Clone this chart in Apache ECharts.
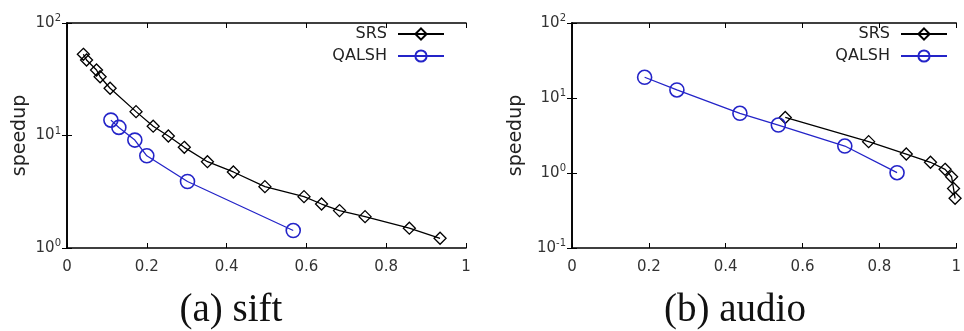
<!DOCTYPE html>
<html>
<head>
<meta charset="utf-8">
<script src="https://cdn.jsdelivr.net/npm/echarts@6/dist/echarts.min.js"></script>
<style>
html,body{margin:0;padding:0;background:#fff;}
#c{width:964px;height:331px;}
</style>
</head>
<body>
<div id="c"></div>
<script>
// ---- data ----
const seriesNames = ['SRS', 'QALSH'];
const panelTitles = ['(a) sift', '(b) audio'];
const xTicks = [0, 0.2, 0.4, 0.6, 0.8, 1];

const siftSrsX = [0.041, 0.049, 0.074, 0.083, 0.108, 0.173, 0.216, 0.254, 0.294, 0.352, 0.417, 0.496, 0.594, 0.638, 0.683, 0.747, 0.858, 0.935];
const siftSrsY = [52.7, 46.9, 38.2, 33.3, 26.3, 16.3, 12.1, 9.9, 7.85, 5.85, 4.74, 3.51, 2.86, 2.46, 2.15, 1.90, 1.50, 1.22];
const siftQalshX = [0.110, 0.130, 0.170, 0.200, 0.302, 0.567];
const siftQalshY = [13.7, 11.8, 9.1, 6.6, 3.9, 1.43];

const audioSrsX = [0.555, 0.772, 0.870, 0.933, 0.971, 0.988, 0.993, 0.997];
const audioSrsY = [5.5, 2.62, 1.79, 1.39, 1.12, 0.89, 0.62, 0.46];
const audioQalshX = [0.189, 0.273, 0.437, 0.537, 0.710, 0.846];
const audioQalshY = [18.9, 12.8, 6.25, 4.36, 2.29, 1.01];

const yRangeSift = [1, 100];
const yRangeAudio = [0.1, 100];

function zip(xs, ys) { return xs.map((x, i) => [x, ys[i]]); }

const tickFont = 'DejaVu Sans';
const blue = '#2424c8';

function yLabelFmt(v) {
  return '10{s|' + Math.round(Math.log10(v)) + '}';
}
const yRich = { s: { fontSize: 10, fontFamily: tickFont, color: '#333', padding: [0, 0, 9, 0] } };

const grids = [
  { left: 67, top: 23, width: 399, height: 225 },
  { left: 572, top: 23, width: 393, height: 225 }
];

const xAxes = [], yAxes = [];
[0, 1].forEach(g => {
  xAxes.push({
    type: 'value', gridIndex: g, min: 0, max: 1, interval: 0.2, position: 'bottom',
    axisLine: { show: true, lineStyle: { color: '#000', width: 1.6 } },
    axisTick: { show: true, inside: true, length: 5, lineStyle: { color: '#000', width: 1 } },
    axisLabel: { show: true, margin: 12, color: '#333', fontSize: 15, fontFamily: tickFont,
      formatter: v => (xTicks.indexOf(+v.toFixed(1)) >= 0 ? String(+v.toFixed(1)) : '') },
    splitLine: { show: false }
  });
  xAxes.push({
    type: 'value', gridIndex: g, min: 0, max: 1, interval: 0.2, position: 'top',
    axisLine: { show: true, lineStyle: { color: '#000', width: 1.6 } },
    axisTick: { show: true, inside: true, length: 5, lineStyle: { color: '#000', width: 1 } },
    axisLabel: { show: false }, splitLine: { show: false }
  });
  const yr = g === 0 ? yRangeSift : yRangeAudio;
  yAxes.push({
    type: 'log', logBase: 10, gridIndex: g, min: yr[0], max: yr[1], position: 'left',
    name: 'speedup', nameLocation: 'middle', nameGap: g === 0 ? 37 : 46, nameRotate: 90,
    nameTextStyle: { fontSize: 19, fontFamily: tickFont, color: '#222' },
    axisLine: { show: true, lineStyle: { color: '#000', width: 1.6 } },
    axisTick: { show: true, inside: true, length: 5, lineStyle: { color: '#000', width: 1 } },
    axisLabel: { show: true, margin: 6, color: '#333', fontSize: 15, fontFamily: tickFont,
      formatter: yLabelFmt, rich: yRich },
    splitLine: { show: false }, minorTick: { show: false }
  });
  yAxes.push({
    type: 'log', logBase: 10, gridIndex: g, min: yr[0], max: yr[1], position: 'right',
    axisLine: { show: true, lineStyle: { color: '#000', width: 1.6 } },
    axisTick: { show: true, inside: true, length: 5, lineStyle: { color: '#000', width: 1 } },
    axisLabel: { show: false }, splitLine: { show: false }
  });
});

function srsSeries(data, g) {
  return {
    name: seriesNames[0], type: 'line', xAxisIndex: g * 2, yAxisIndex: g * 2, data: data,
    symbol: 'diamond', symbolSize: 12, showAllSymbol: true,
    lineStyle: { color: '#000', width: 1.3 },
    itemStyle: { color: 'rgba(0,0,0,0)', borderColor: '#000', borderWidth: 1.3 },
    color: '#000', animation: false
  };
}
function qalshSeries(data, g) {
  return {
    name: seriesNames[1], type: 'line', xAxisIndex: g * 2, yAxisIndex: g * 2, data: data,
    symbol: 'circle', symbolSize: 14, showAllSymbol: true,
    lineStyle: { color: blue, width: 1.3 },
    itemStyle: { color: 'rgba(0,0,0,0)', borderColor: blue, borderWidth: 1.6 },
    color: blue, animation: false
  };
}

const legendBase = {
  orient: 'vertical', align: 'right', padding: 0, itemGap: 6, itemWidth: 46, itemHeight: 14,
  top: 26, data: seriesNames, selectedMode: false,
  textStyle: { fontSize: 16, fontFamily: tickFont, color: '#222', padding: [0, 6, 0, 0] }
};

const option = {
  backgroundColor: '#fff',
  animation: false,
  grid: grids,
  xAxis: xAxes,
  yAxis: yAxes,
  legend: [
    Object.assign({}, legendBase, { right: 964 - 445 }),
    Object.assign({}, legendBase, { right: 964 - 948 })
  ],
  series: [
    srsSeries(zip(siftSrsX, siftSrsY), 0),
    qalshSeries(zip(siftQalshX, siftQalshY), 0),
    srsSeries(zip(audioSrsX, audioSrsY), 1),
    qalshSeries(zip(audioQalshX, audioQalshY), 1)
  ],
  graphic: [
    { type: 'text', x: 231, y: 311, style: { text: panelTitles[0], fontSize: 39, fontFamily: 'Liberation Serif', fill: '#111', textAlign: 'center', textVerticalAlign: 'middle' } },
    { type: 'text', x: 735, y: 311, style: { text: panelTitles[1], fontSize: 39, fontFamily: 'Liberation Serif', fill: '#111', textAlign: 'center', textVerticalAlign: 'middle' } }
  ]
};

const chart = echarts.init(document.getElementById('c'), null, { renderer: 'canvas' });
chart.setOption(option);
</script>
</body>
</html>
